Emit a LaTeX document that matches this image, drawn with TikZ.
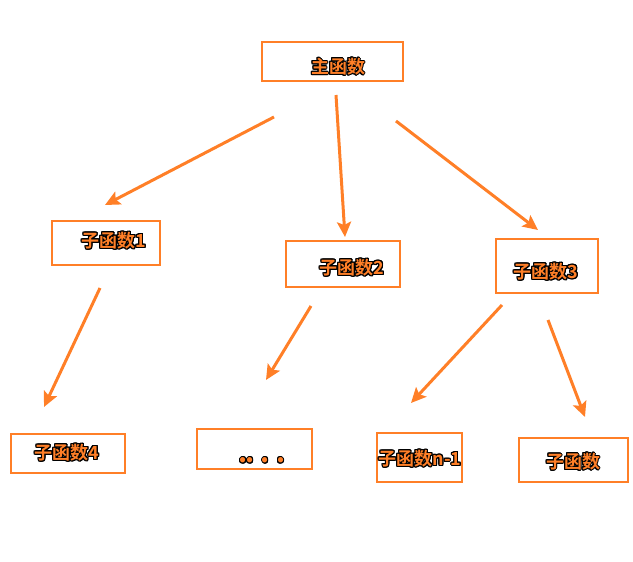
\documentclass[tikz,border=0pt]{standalone}
\usepackage{fontspec}
\usepackage[copies]{contour}
\newfontfamily\cjk{Noto Sans CJK SC Bold}
\usetikzlibrary{arrows.meta}
\definecolor{org}{HTML}{FF7F27}
\contourlength{1pt}
\contournumber{16}
\tikzset{
  box/.style={draw=org, line width=2.8pt, inner sep=0pt},
  lbl/.style={font=\cjk\fontsize{18}{18}\selectfont, text=org, inner sep=0pt},
  arr/.style={draw=org, line width=3pt, -{Stealth[length=15pt,width=14pt,inset=3pt]}},
}
\newcommand{\ol}[1]{\contour{black}{#1}}
\begin{document}
\begin{tikzpicture}[x=1pt,y=-1pt]
\useasboundingbox (0,0) rectangle (633,562);
% boxes
\draw[box] (262,42) rectangle (403,81);
\draw[box] (52,221) rectangle (160,265);
\draw[box] (286,241) rectangle (400,287);
\draw[box] (496,239) rectangle (598,293);
\draw[box] (11,434) rectangle (125,473);
\draw[box] (197,429) rectangle (312,469);
\draw[box] (377,433) rectangle (462,482);
\draw[box] (519,438) rectangle (628,482);
% labels
\node[lbl] (m) at (338,67) {\ol{主函数}};
\node[lbl] (s1) at (114,241) {\ol{子函数1}};
\node[lbl] (s2) at (352,268) {\ol{子函数2}};
\node[lbl] (s3) at (546,272) {\ol{子函数3}};
\node[lbl] (s4) at (67,453) {\ol{子函数4}};
\node[lbl, font=\cjk\fontsize{28}{28}\selectfont] (sd) at (262,461) {\ol{.\hspace{-2pt}.\hspace{6pt}.\hspace{6pt}.}};
\node[lbl] (sn) at (420,459) {\ol{子函数n-1}};
\node[lbl] (sx) at (573,462) {\ol{子函数}};
% arrow coordinates
\coordinate (a1s) at (274,117); \coordinate (a1e) at (105,205);
\coordinate (a2s) at (336,95);  \coordinate (a2e) at (345,237);
\coordinate (a3s) at (396,121); \coordinate (a3e) at (538,230);
\coordinate (a4s) at (100,288); \coordinate (a4e) at (44,407);
\coordinate (a5s) at (311,306); \coordinate (a5e) at (266,380);
\coordinate (a6s) at (502,305); \coordinate (a6e) at (411,403);
\coordinate (a7s) at (548,320); \coordinate (a7e) at (585,417);
\foreach \i in {1,...,7} { \draw[arr] (a\i s) -- (a\i e); }
\end{tikzpicture}
\end{document}
